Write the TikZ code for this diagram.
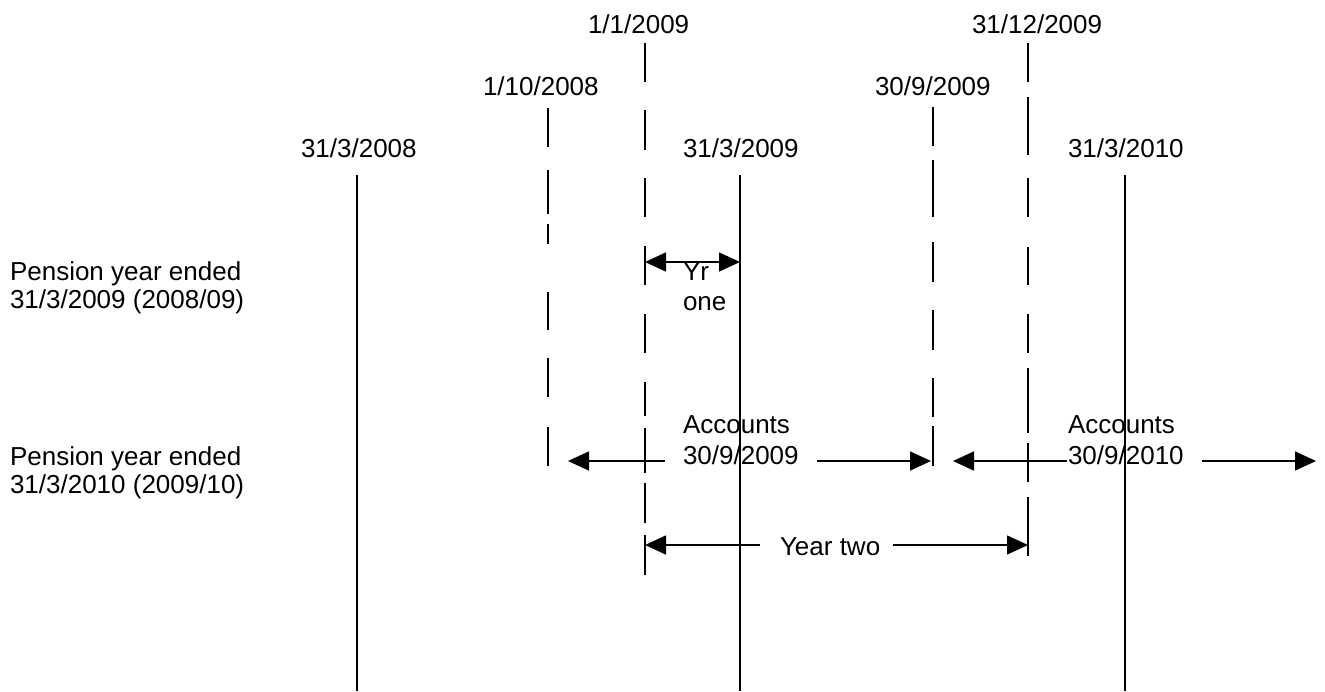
\documentclass[tikz,border=0pt]{standalone}
\usepackage{fontspec}
\setmainfont{Liberation Sans}
\usetikzlibrary{arrows.meta}
\tikzset{
  lbl/.style={anchor=base west, inner sep=0pt, outer sep=0pt, font=\fontsize{26}{30}\selectfont},
  solidline/.style={line width=1.5pt},
  dashline/.style={line width=1.5pt},
  tip/.tip={Triangle[length=21pt,width=19pt]},
  arr/.style={line width=1.5pt, -tip},
  darr/.style={line width=1.5pt, tip-tip}
}
\begin{document}
\begin{tikzpicture}[x=1pt,y=-1pt]
\useasboundingbox (0,0) rectangle (1325,691);
% date labels
\node[lbl] (l0101) at (588,33) {1/1/2009};
\node[lbl] (l3112) at (972,33) {31/12/2009};
\node[lbl] (l0110) at (483,95) {1/10/2008};
\node[lbl] (l3009) at (875,95) {30/9/2009};
\node[lbl] (l3108) at (301,157) {31/3/2008};
\node[lbl] (l3109) at (683,157) {31/3/2009};
\node[lbl] (l3110) at (1068,157) {31/3/2010};
% left labels
\node[lbl] (p1a) at (10,280) {Pension year ended};
\node[lbl] (p1b) at (10,308) {31/3/2009 (2008/09)};
\node[lbl] (p2a) at (10,465) {Pension year ended};
\node[lbl] (p2b) at (10,493) {31/3/2010 (2009/10)};
% vertical line ends
\coordinate (s1t) at (357,175); \coordinate (s1b) at (357,691);
\coordinate (s2t) at (740,175); \coordinate (s2b) at (740,691);
\coordinate (s3t) at (1125,175); \coordinate (s3b) at (1125,691);
\coordinate (d1t) at (548,108); \coordinate (d1b) at (548,466);
\coordinate (d2t) at (645,43); \coordinate (d2b) at (645,575);
\coordinate (d3t) at (933,107); \coordinate (d3b) at (933,466);
\coordinate (d4t) at (1028,43); \coordinate (d4b) at (1028,556);
\draw[solidline] (s1t) -- (s1b);
\draw[solidline] (s2t) -- (s2b);
\draw[solidline] (s3t) -- (s3b);
\draw[dashline, dash pattern=on 39pt off 23pt on 44pt off 10pt on 20pt off 48pt on 38pt off 28pt on 39pt off 30pt on 39pt off 100pt] (d1t) -- (d1b);
\draw[dashline, dash pattern=on 39pt off 28pt on 40pt off 28pt on 39pt off 29pt on 39pt off 29pt on 39pt off 29pt on 34pt off 12pt on 45pt off 10pt on 40pt off 12pt on 40pt off 100pt] (d2t) -- (d2b);
\draw[dashline, dash pattern=on 39pt off 14pt on 57pt off 25pt on 40pt off 28pt on 40pt off 28pt on 39pt off 9pt on 40pt off 100pt] (d3t) -- (d3b);
\draw[dashline, dash pattern=on 39pt off 15pt on 58pt off 23pt on 39pt off 30pt on 38pt off 29pt on 39pt off 15pt on 65pt off 10pt on 39pt off 15pt on 59pt off 100pt] (d4t) -- (d4b);
% Yr one
\coordinate (y1l) at (645,262); \coordinate (y1r) at (740,262);
\draw[darr] (y1l) -- (y1r);
\node[lbl] (yr) at (683,280) {Yr};
\node[lbl] (one) at (683,310) {one};
% Accounts 30/9/2009
\node[lbl] (acc1a) at (683,433) {Accounts};
\node[lbl] (acc1b) at (683,464) {30/9/2009};
\coordinate (a1ls) at (665,461); \coordinate (a1le) at (568,461);
\coordinate (a1rs) at (817,461); \coordinate (a1re) at (931,461);
\draw[arr] (a1ls) -- (a1le);
\draw[arr] (a1rs) -- (a1re);
% Accounts 30/9/2010
\node[lbl] (acc2a) at (1068,433) {Accounts};
\node[lbl] (acc2b) at (1068,464) {30/9/2010};
\coordinate (a2ls) at (1067,461); \coordinate (a2le) at (953,461);
\coordinate (a2rs) at (1202,461); \coordinate (a2re) at (1316,461);
\draw[arr] (a2ls) -- (a2le);
\draw[arr] (a2rs) -- (a2re);
% Year two
\node[lbl] (ytwo) at (780,555) {Year two};
\coordinate (y2ls) at (760,545); \coordinate (y2le) at (645,545);
\coordinate (y2rs) at (893,545); \coordinate (y2re) at (1028,545);
\draw[arr] (y2ls) -- (y2le);
\draw[arr] (y2rs) -- (y2re);
\end{tikzpicture}
\end{document}
